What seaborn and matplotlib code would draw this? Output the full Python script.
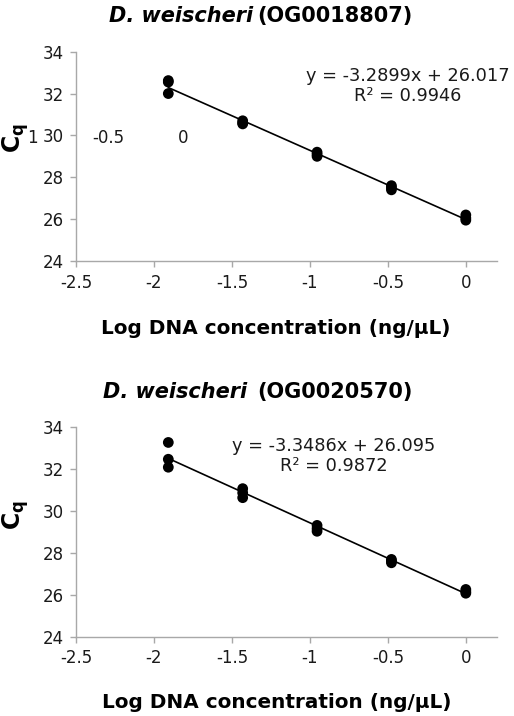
import numpy as np
import pandas as pd
import matplotlib
matplotlib.use("Agg")
import matplotlib.pyplot as plt
import seaborn as sns

# ---- data ----
log_conc = [0.0, -0.477, -0.954, -1.431, -1.908]

top_title_id = "(OG0018807)"
top_cq = {
    0.0: [26.20, 26.05, 25.95],
    -0.477: [27.60, 27.50, 27.40],
    -0.954: [29.20, 29.10, 29.00],
    -1.431: [30.70, 30.60, 30.55],
    -1.908: [32.62, 32.55, 32.00],
}
top_eq = "y = -3.2899x + 26.017"
top_r2 = "R² = 0.9946"

bot_title_id = "(OG0020570)"
bot_cq = {
    0.0: [26.25, 26.15, 26.07],
    -0.477: [27.68, 27.60, 27.52],
    -0.954: [29.30, 29.15, 29.02],
    -1.431: [31.05, 30.85, 30.62],
    -1.908: [33.25, 32.45, 32.07],
}
bot_eq = "y = -3.3486x + 26.095"
bot_r2 = "R² = 0.9872"

x_ticks = [-2.5, -2, -1.5, -1, -0.5, 0]
x_tick_labels = ["-2.5", "-2", "-1.5", "-1", "-0.5", "0"]
y_ticks = [24, 26, 28, 30, 32, 34]
stray_labels = ["1", "-0.5", "0"]

xlabel = "Log DNA concentration (ng/µL)"
species = "D. weischeri"


def to_df(d):
    rows = []
    for x in log_conc:
        for v in d[x]:
            rows.append((x, v))
    return pd.DataFrame(rows, columns=["x", "cq"])


sns.set_theme(style="white")
plt.rcParams["font.family"] = ["DejaVu Sans"]

W, H = 514, 716
fig = plt.figure(figsize=(W / 100, H / 100), dpi=100)

spine_col = "#a8a8a8"
text_col = "#1a1a1a"


def make_panel(bottom_px, top_px, df, title_id, title_y, split_l, split_r, eq, r2, eq_xy,
               xl_y, xl_x, ylab_y):
    ax = fig.add_axes([76 / W, 1 - bottom_px / H, 421 / W, (bottom_px - top_px) / H])
    sns.regplot(data=df, x="x", y="cq", ax=ax, ci=None, truncate=True,
                scatter_kws=dict(s=60, color="black", edgecolor="none", alpha=1),
                line_kws=dict(color="black", lw=1.2))
    ax.set_xlim(-2.5, 0.2)
    ax.set_ylim(24, 34)
    ax.set_xticks(x_ticks)
    ax.set_xticklabels(x_tick_labels)
    ax.set_yticks(y_ticks)
    for s in ["top", "right"]:
        ax.spines[s].set_visible(False)
    for s in ["left", "bottom"]:
        ax.spines[s].set_color(spine_col)
        ax.spines[s].set_linewidth(1.0)
    ax.tick_params(axis="both", which="major", direction="out", length=4, width=1,
                   color=spine_col, labelsize=12, labelcolor=text_col, pad=5,
                   bottom=True, left=True)
    ax.set_xlabel("")
    ax.set_ylabel(r"$\mathbf{C_q}$", fontsize=17, rotation=90, color="black")
    ax.yaxis.set_label_coords(-0.107, ylab_y)
    # title (bold italic species + bold id)
    fig.text(split_l / W, 1 - title_y / H, species, ha="right", va="center",
             fontsize=15, fontweight="bold", fontstyle="italic", color="black")
    fig.text(split_r / W, 1 - title_y / H, title_id, ha="left", va="center",
             fontsize=15, fontweight="bold", color="black")
    # x label
    fig.text(xl_x / W, 1 - xl_y / H, xlabel, ha="center", va="center",
             fontsize=14.4, fontweight="bold", color="black")
    # equation
    fig.text(eq_xy[0] / W, 1 - eq_xy[1] / H, eq + "\n" + r2, ha="center", va="center",
             fontsize=12.8, color=text_col, linespacing=1.2)
    return ax


ax1 = make_panel(261, 51.7, to_df(top_cq), top_title_id, 16, 253, 257, top_eq, top_r2,
                 (408, 86), 328, 276, 0.588)
ax2 = make_panel(636.7, 426.7, to_df(bot_cq), bot_title_id, 392, 247, 257, bot_eq, bot_r2,
                 (334, 456), 702, 277, 0.58)

# stray labels in the top panel
for lab, xp in zip(stray_labels, [32, 108, 183]):
    fig.text(xp / W, 1 - 138 / H, lab, ha="center", va="center", fontsize=12, color=text_col)

fig.savefig("out.png", dpi=100, facecolor="white")
